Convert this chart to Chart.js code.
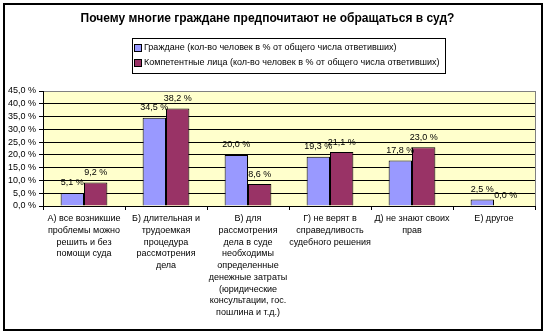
<!DOCTYPE html>
<html>
<head>
<meta charset="utf-8">
<script src="https://cdn.jsdelivr.net/npm/chart.js@4/dist/chart.umd.min.js"></script>
<style>
  html, body { margin: 0; padding: 0; background: #fff; }
  canvas { display: block; }
</style>
</head>
<body>
<canvas id="c" width="548" height="335"></canvas>
<script>
const titleText = 'Почему многие граждане предпочитают не обращаться в суд?';

const categories = [
  ['А) все возникшие', 'проблемы можно', 'решить и без', 'помощи суда'],
  ['Б) длительная и', 'трудоемкая', 'процедура', 'рассмотрения', 'дела'],
  ['В) для', 'рассмотрения', 'дела в суде', 'необходимы', 'определенные', 'денежные затраты', '(юридические', 'консультации, гос.', 'пошлина и т.д.)'],
  ['Г) не верят в', 'справедливость', 'судебного решения'],
  ['Д) не знают своих', 'прав'],
  ['Е) другое']
];

const seriesNames = [
  'Граждане (кол-во человек в % от общего числа ответивших)',
  'Компетентные лица (кол-во человек в % от общего числа ответивших)'
];

const citizens = [5.1, 34.5, 20.0, 19.3, 17.8, 2.5];
const experts  = [9.2, 38.2, 8.6, 21.1, 23.0, 0.0];

const yTicks = [0, 5, 10, 15, 20, 25, 30, 35, 40, 45];

const FONT = '"Liberation Sans", Arial, sans-serif';
const fmt = v => v.toFixed(1).replace('.', ',') + ' %';

// Plot background, frame and outer border
const framePlugin = {
  id: 'frame',
  beforeDraw(chart) {
    const { ctx, chartArea: a } = chart;
    ctx.save();
    ctx.fillStyle = '#FFFFCC';
    ctx.fillRect(a.left, a.top, a.right - a.left, a.bottom - a.top);
    ctx.restore();
  },
  beforeDatasetsDraw(chart) {
    const { ctx, chartArea: a } = chart;
    ctx.save();
    ctx.strokeStyle = '#808080';
    ctx.lineWidth = 1;
    ctx.beginPath();
    ctx.moveTo(Math.round(a.right) + 0.5, a.top);
    ctx.lineTo(Math.round(a.right) + 0.5, a.bottom);
    ctx.stroke();
    ctx.restore();
  },
  afterDraw(chart) {
    const { ctx } = chart;
    ctx.save();
    ctx.strokeStyle = '#000';
    ctx.lineWidth = 2;
    ctx.strokeRect(4, 4, 538, 326);
    ctx.restore();
  }
};

// Value labels above bars
const valueLabels = {
  id: 'valueLabels',
  afterDatasetsDraw(chart) {
    const { ctx } = chart;
    ctx.save();
    ctx.font = '9px ' + FONT;
    ctx.fillStyle = '#000';
    ctx.textAlign = 'center';
    ctx.textBaseline = 'middle';
    chart.data.datasets.forEach((ds, i) => {
      chart.getDatasetMeta(i).data.forEach((el, j) => {
        ctx.fillText(fmt(ds.data[j]), el.x, el.y - 10);
      });
    });
    ctx.restore();
  }
};

// Boxed legend
const boxedLegend = {
  id: 'boxedLegend',
  afterDraw(chart) {
    const { ctx } = chart;
    const x0 = 132, y0 = 38, w = 313, h = 35;
    ctx.save();
    ctx.strokeStyle = '#000';
    ctx.lineWidth = 1;
    ctx.strokeRect(x0 + 0.5, y0 + 0.5, w, h);
    ctx.font = '9px ' + FONT;
    ctx.textAlign = 'left';
    ctx.textBaseline = 'middle';
    chart.data.datasets.forEach((ds, i) => {
      const cy = y0 + 10 + i * 15;
      ctx.fillStyle = ds.backgroundColor;
      ctx.fillRect(x0 + 3, cy - 3, 6, 6);
      ctx.strokeStyle = '#000';
      ctx.strokeRect(x0 + 2.5, cy - 3.5, 7, 7);
      ctx.fillStyle = '#000';
      ctx.fillText(ds.label, x0 + 12, cy);
    });
    ctx.restore();
  }
};

new Chart(document.getElementById('c'), {
  type: 'bar',
  data: {
    labels: categories,
    datasets: [
      { label: seriesNames[0], data: citizens, backgroundColor: '#9999FF', borderColor: '#000', borderWidth: 1,
        categoryPercentage: 0.57, barPercentage: 1.0 },
      { label: seriesNames[1], data: experts, backgroundColor: '#993366', borderColor: '#000', borderWidth: 1,
        categoryPercentage: 0.57, barPercentage: 1.0 }
    ]
  },
  options: {
    responsive: false,
    animation: false,
    devicePixelRatio: 1,
    layout: { padding: { left: 0, right: 13, top: 0, bottom: 0 } },
    plugins: {
      legend: { display: false },
      tooltip: { enabled: false },
      title: {
        display: true,
        text: titleText,
        color: '#000',
        font: { family: FONT, size: 12, weight: 'bold', lineHeight: 1.2 },
        padding: { top: 11, bottom: 65.6 }
      }
    },
    scales: {
      x: {
        offset: true,
        grid: { offset: true, drawOnChartArea: false, drawTicks: true, tickLength: 4, color: '#000' },
        border: { color: '#000', width: 1 },
        ticks: {
          color: '#000', maxRotation: 0, autoSkip: false, padding: 3,
          font: { family: FONT, size: 9, lineHeight: 1.3 }
        },
        afterFit(scale) { scale.height = 129; }
      },
      y: {
        min: 0, max: 45,
        afterBuildTicks(scale) { scale.ticks = yTicks.map(v => ({ value: v })); },
        grid: {
          color: ctx => (ctx.tick && ctx.tick.value === 45) ? '#808080' : '#000',
          tickColor: '#000', tickLength: 4, lineWidth: 1
        },
        border: { color: '#000', width: 1 },
        ticks: {
          color: '#000', padding: 3, autoSkip: false,
          font: { family: FONT, size: 9 },
          callback: v => fmt(v)
        },
        afterFit(scale) { scale.width = 43; }
      }
    }
  },
  plugins: [framePlugin, valueLabels, boxedLegend]
});
</script>
</body>
</html>
